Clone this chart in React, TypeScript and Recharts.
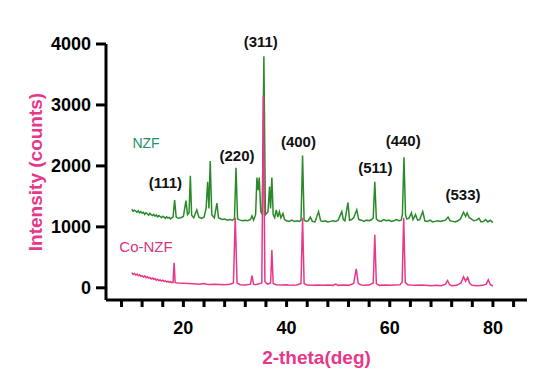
import { LineChart, Line, XAxis, YAxis, ReferenceDot } from 'recharts';

// 2-theta (deg) / intensity (counts) pairs
const nzfTheta = [
  10, 10.25, 10.5, 10.75, 11, 11.25, 11.5, 11.75, 12, 12.25, 12.5, 12.75, 13, 13.25, 13.5, 13.75, 14, 14.25, 14.5, 14.75,
  15, 15.25, 15.5, 15.75, 16, 16.25, 16.5, 16.75, 17, 17.25, 17.5, 17.75, 18, 18.3, 18.6, 19,
  19.5, 20, 20.5, 20.8, 21.1, 21.35, 21.6, 22, 22.6, 23, 23.5, 24, 24.4, 24.7, 24.95, 25.2, 25.5, 26, 26.5, 26.8,
  27.5, 28, 28.5, 29, 29.5, 29.9, 30.2, 30.5, 31, 31.5, 32, 32.5, 33, 33.3, 33.6, 34, 34.25, 34.5, 34.7, 35,
  35.3, 35.6, 35.9, 36.4, 36.7, 36.9, 37.15, 37.4, 37.7, 38, 38.3, 38.6, 38.9, 39.3, 39.6, 40, 40.5, 41, 41.5, 42,
  42.5, 42.8, 43.1, 43.4, 43.8, 44.2, 44.6, 45, 45.5, 46.2, 46.6, 47, 47.5, 48, 48.5, 49, 49.5, 50, 50.7, 51,
  51.3, 51.9, 52.2, 52.6, 53, 53.6, 54, 54.5, 55, 55.5, 56, 56.5, 56.8, 57.1, 57.4, 57.8, 58.3, 58.8, 59.3, 59.8,
  60.3, 60.8, 61.3, 61.8, 62.2, 62.45, 62.75, 63.05, 63.3, 63.7, 64.2, 64.5, 65, 65.4, 65.8, 66.4, 66.8, 67.3, 67.8, 68.3,
  68.8, 69.3, 69.8, 70.3, 70.8, 71.3, 71.7, 72.2, 72.7, 73.2, 73.7, 74.3, 74.7, 75, 75.4, 75.8, 76.3, 76.8, 77.3, 77.7,
  78.2, 78.6, 79, 79.5, 80,
];
const nzfCounts = [
  1290, 1255, 1275, 1260, 1240, 1265, 1230, 1250, 1225, 1240, 1205, 1230, 1215, 1190, 1220, 1200, 1185, 1205, 1175, 1195,
  1165, 1185, 1170, 1150, 1175, 1160, 1140, 1165, 1145, 1155, 1130, 1150, 1160, 1440, 1160, 1140,
  1150, 1170, 1430, 1200, 1230, 1840, 1190, 1150, 1280, 1160, 1140, 1160, 1300, 1740, 1300, 2080, 1200, 1150, 1390, 1150,
  1120, 1130, 1110, 1120, 1110, 1130, 1970, 1130, 1110, 1100, 1110, 1100, 1120, 1180, 1110, 1200, 1810, 1600, 1810, 1250,
  1200, 3800, 1200, 1250, 1660, 1300, 1810, 1200, 1150, 1280, 1160, 1250, 1150, 1220, 1120, 1100, 1090, 1110, 1090, 1100,
  1090, 1110, 2170, 1110, 1090, 1100, 1160, 1090, 1080, 1250, 1100, 1090, 1100, 1080, 1090, 1100, 1090, 1110, 1250, 1120,
  1100, 1400, 1110, 1120, 1150, 1280, 1120, 1110, 1090, 1110, 1100, 1120, 1150, 1740, 1130, 1100, 1090, 1120, 1100, 1110,
  1090, 1100, 1120, 1100, 1110, 1200, 2140, 1200, 1130, 1140, 1230, 1120, 1200, 1110, 1120, 1250, 1100, 1090, 1110, 1080,
  1090, 1100, 1090, 1100, 1110, 1160, 1100, 1090, 1080, 1100, 1130, 1240, 1170, 1230, 1150, 1130, 1100, 1110, 1140, 1080,
  1090, 1120, 1080, 1110, 1070,
];

const coTheta = [
  10, 10.25, 10.5, 10.75, 11, 11.25, 11.5, 11.75, 12, 12.25, 12.5, 12.75, 13, 13.25, 13.5, 13.75, 14, 14.25, 14.5, 14.75,
  15, 15.25, 15.5, 15.75, 16, 16.25, 16.5, 16.75, 17, 17.25, 17.5, 17.75, 18, 18.2, 18.4,
  19, 20, 21, 22, 23, 24, 24.5, 25, 26, 27, 28, 29, 29.7, 30.05, 30.4, 31, 32, 33, 33.3, 33.6,
  34, 35.2, 35.5, 35.8, 36.3, 36.9, 37.15, 37.4, 38, 39, 40, 41, 42, 42.8, 43.1, 43.4, 44, 45, 46, 47,
  48, 49, 49.5, 50, 51, 52, 53, 53.5, 53.9, 54.5, 55, 56, 56.8, 57.1, 57.4, 58, 59, 60, 61, 62,
  62.4, 62.7, 63, 63.5, 64, 65, 66, 67, 68, 69, 70, 70.8, 71.2, 71.6, 72, 73, 73.8, 74.3, 74.7, 75.1,
  75.5, 76, 77, 78, 78.7, 79.1, 79.5, 80,
];
const coCounts = [
  250, 220, 235, 210, 225, 200, 215, 190, 200, 175, 195, 165, 180, 160, 170, 145, 160, 140, 150, 125,
  140, 120, 130, 110, 125, 105, 115, 95, 110, 90, 100, 85, 90, 410, 85,
  80, 75, 70, 65, 60, 70, 60, 55, 60, 55, 50, 60, 80, 1150, 80, 50, 45, 60, 200, 60,
  50, 80, 3150, 100, 60, 80, 620, 70, 50, 45, 50, 40, 45, 70, 1150, 70, 45, 40, 45, 40,
  45, 40, 60, 40, 45, 40, 70, 310, 70, 45, 40, 45, 80, 870, 70, 40, 45, 40, 45, 50,
  90, 1150, 90, 50, 45, 40, 45, 40, 35, 40, 35, 60, 120, 50, 35, 40, 80, 180, 110, 170,
  70, 40, 35, 40, 60, 130, 50, 30,
];

const yTicks = [0, 1000, 2000, 3000, 4000];
const xTicks = [8, 12, 16, 20, 24, 28, 32, 36, 40, 44, 48, 52, 56, 60, 64, 68, 72, 76, 80, 84];
const xTickLabels = [20, 40, 60, 80];

const peakLabels = ['(111)', '(220)', '(311)', '(400)', '(511)', '(440)', '(533)'];
const peakLabelTheta = [16.5, 30.4, 35.0, 42.3, 57.2, 62.6, 74.2];
const peakLabelCounts = [1720, 2165, 4035, 2395, 1965, 2410, 1525];

const seriesNames = ['NZF', 'Co-NZF'];
const seriesLabelTheta = [12.75, 12.75];
const seriesLabelCounts = [2380, 675];

const nzfData = nzfTheta.map((x, i) => ({ x, y: nzfCounts[i] }));
const coData = coTheta.map((x, i) => ({ x, y: coCounts[i] }));

const font = '"Liberation Sans", Arial, sans-serif';
const green = '#2a8a2a';
const pink = '#e8378b';
const labelColors = ['#23906b', '#d8347f'];
const labelSizes = [14, 15];

export default function App() {
  return (
    <div style={{ position: 'absolute', left: 0, top: 0, background: '#fff', fontFamily: font }}>
      <LineChart width={535} height={371} margin={{ top: 44, right: 8, left: 0, bottom: 0 }}>
        <XAxis
          type="number"
          dataKey="x"
          domain={[5, 86.6]}
          ticks={xTicks}
          tickFormatter={(v: number) => (xTickLabels.includes(v) ? String(v) : '')}
          height={71}
          tickSize={7}
          tickMargin={14}
          axisLine={{ stroke: '#000', strokeWidth: 3 }}
          tickLine={{ stroke: '#000', strokeWidth: 3 }}
          tick={{ fill: '#000', fontSize: 18, fontWeight: 'bold', fontFamily: font }}
          allowDataOverflow
          label={{
            value: '2-theta(deg)',
            position: 'insideBottom',
            offset: 7,
            fill: pink,
            fontSize: 19,
            fontWeight: 'bold',
            fontFamily: font,
          }}
        />
        <YAxis
          type="number"
          dataKey="y"
          domain={[-200, 4000]}
          ticks={yTicks}
          width={106}
          tickSize={10}
          tickMargin={5}
          axisLine={{ stroke: '#000', strokeWidth: 3 }}
          tickLine={{ stroke: '#000', strokeWidth: 3 }}
          tick={{ fill: '#000', fontSize: 18, fontWeight: 'bold', fontFamily: font }}
          allowDataOverflow
          label={{
            value: 'Intensity (counts)',
            angle: -90,
            position: 'insideLeft',
            offset: 35,
            fill: pink,
            fontSize: 19,
            fontWeight: 'bold',
            fontFamily: font,
            style: { textAnchor: 'middle' },
          }}
        />
        <Line
          data={nzfData}
          dataKey="y"
          type="linear"
          stroke={green}
          strokeWidth={1.5}
          dot={false}
          isAnimationActive={false}
        />
        <Line
          data={coData}
          dataKey="y"
          type="linear"
          stroke={pink}
          strokeWidth={1.5}
          dot={false}
          isAnimationActive={false}
        />
        {peakLabels.map((t, i) => (
          <ReferenceDot
            key={t}
            x={peakLabelTheta[i]}
            y={peakLabelCounts[i]}
            r={0}
            ifOverflow="visible"
            label={{
              value: t,
              position: 'center',
              fill: '#111',
              fontSize: 15,
              fontWeight: 'bold',
              fontFamily: font,
            }}
          />
        ))}
        {seriesNames.map((t, i) => (
          <ReferenceDot
            key={t}
            x={seriesLabelTheta[i]}
            y={seriesLabelCounts[i]}
            r={0}
            ifOverflow="visible"
            label={{
              value: t,
              position: 'center',
              fill: labelColors[i],
              fontSize: labelSizes[i],
              fontFamily: font,
            }}
          />
        ))}
      </LineChart>
    </div>
  );
}
